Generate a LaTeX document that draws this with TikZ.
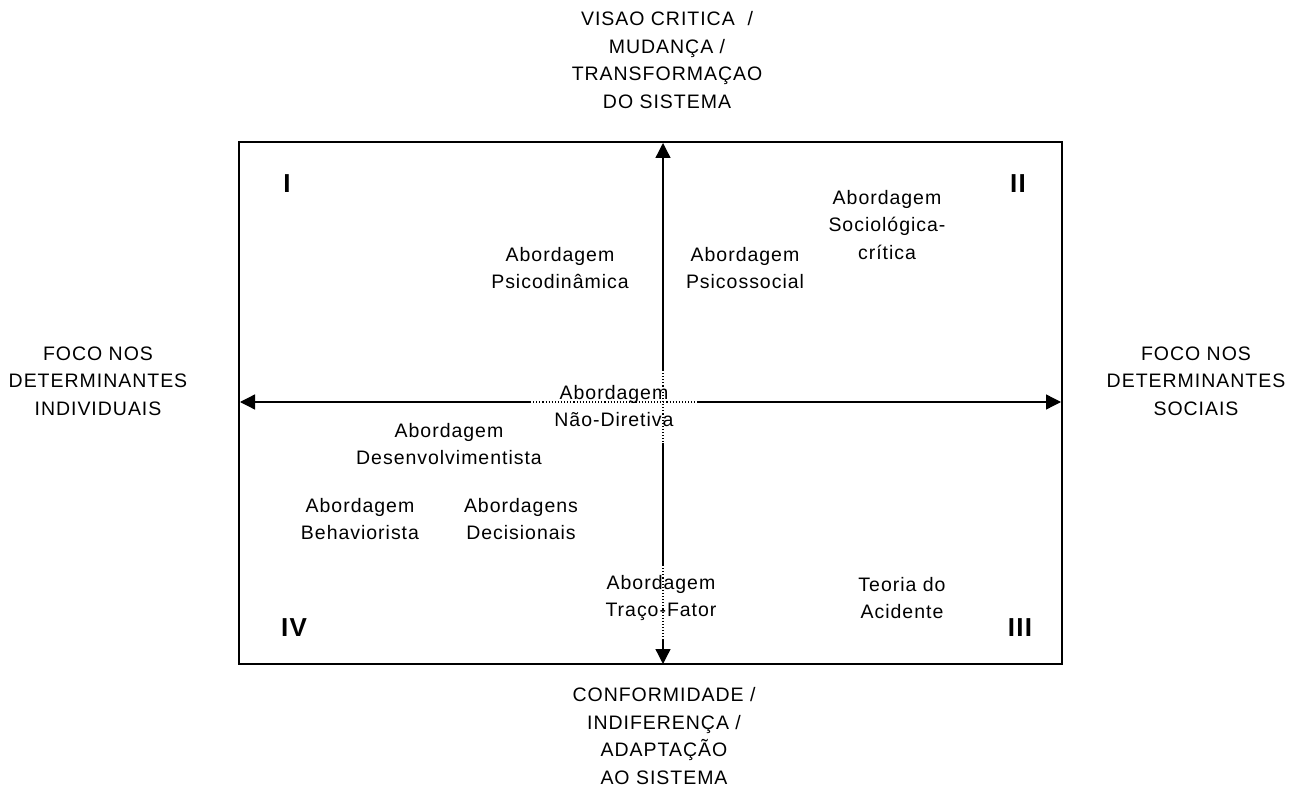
\documentclass[tikz,border=0pt]{standalone}
\usepackage{fontspec}
\setmainfont[LetterSpace=5]{Liberation Sans}
\usetikzlibrary{arrows.meta}
\tikzset{
  lbl/.style={align=center, inner sep=0pt, font=\fontsize{19.5}{27.5}\selectfont},
  quad/.style={inner sep=0pt, font=\fontsize{26}{28}\selectfont\bfseries},
  axis/.style={line width=1.3pt},
  dotaxis/.style={line width=1.1pt, dotted},
  tip/.style={-{Triangle[width=15pt,length=15pt]}}
}
\begin{document}
\begin{tikzpicture}[x=1pt,y=-1pt]
\useasboundingbox (0,0) rectangle (1291,786);
% frame
\draw[line width=1.3pt] (239,142) rectangle (1062,664);
% axis coordinates
\coordinate (vt) at (663,143);
\coordinate (v1) at (663,370);
\coordinate (v2) at (663,443);
\coordinate (v3) at (663,565);
\coordinate (v4) at (663,640);
\coordinate (vb) at (663,664);
\coordinate (hl) at (240,402);
\coordinate (h1) at (530,402);
\coordinate (h2) at (698,402);
\coordinate (hr) at (1061,402);
% vertical axis
\draw[axis,tip] (v1) -- (vt);
\draw[dotaxis] (v1) -- (v2);
\draw[axis] (v2) -- (v3);
\draw[dotaxis] (v3) -- (v4);
\draw[axis,tip] (v4) -- (vb);
% horizontal axis
\draw[axis,tip] (h1) -- (hl);
\draw[dotaxis] (h1) -- (h2);
\draw[axis,tip] (h2) -- (hr);
% axis labels
\node[lbl] (topL) at (667,60) {VISAO CRITICA \ /\\MUDANÇA /\\TRANSFORMAÇAO\\DO SISTEMA};
\node[lbl] (leftL) at (98,381) {FOCO NOS\\DETERMINANTES\\INDIVIDUAIS};
\node[lbl] (rightL) at (1196,381) {FOCO NOS\\DETERMINANTES\\SOCIAIS};
\node[lbl] (botL) at (664,736) {CONFORMIDADE /\\INDIFERENÇA /\\ADAPTAÇÃO\\AO SISTEMA};
% quadrants
\node[quad] (qI) at (287,184) {I};
\node[quad] (qII) at (1018,184) {II};
\node[quad] (qIII) at (1020,628) {III};
\node[quad] (qIV) at (294,628) {IV};
% approaches
\node[lbl] (psicod) at (560,268) {Abordagem\\Psicodinâmica};
\node[lbl] (psicos) at (745,268) {Abordagem\\Psicossocial};
\node[lbl] (socio) at (887,225) {Abordagem\\Sociológica-\\crítica};
\node[lbl] (naodir) at (614,406) {Abordagem\\Não-Diretiva};
\node[lbl] (desenv) at (449,444) {Abordagem\\Desenvolvimentista};
\node[lbl] (behav) at (360,519) {Abordagem\\Behaviorista};
\node[lbl] (decis) at (521,519) {Abordagens\\Decisionais};
\node[lbl] (traco) at (661,598) {Abordagem\\Traço-Fator};
\node[lbl] (acid) at (902,598) {Teoria do\\Acidente};
\end{tikzpicture}
\end{document}
